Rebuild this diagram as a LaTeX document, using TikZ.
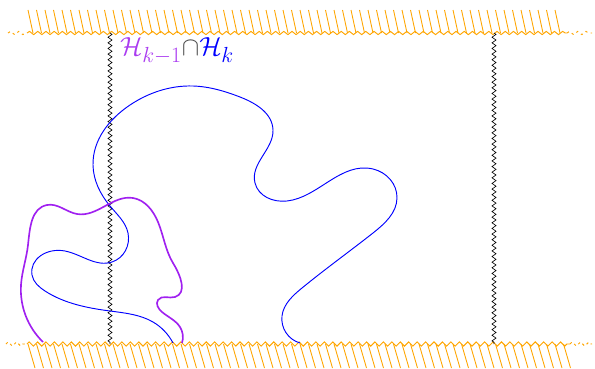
\documentclass[tikz,border=0pt]{standalone}
\usepackage{amsmath, amssymb}
\usepackage{xcolor}
\usetikzlibrary{decorations.pathmorphing, hobby}

\definecolor{hpurple}{RGB}{160,32,240}
\definecolor{hlabel}{RGB}{170,60,240}
\definecolor{horange}{RGB}{255,165,0}

\tikzset{
  wall/.style={horange, line width=0.8pt},
  hatch/.style={horange, line width=0.75pt},
  wiggle/.style={black, line width=0.55pt, decorate,
    decoration={zigzag, amplitude=1.7pt, segment length=4.8pt}},
}

\begin{document}
\begin{tikzpicture}[x=0.03cm, y=-0.03cm]
\useasboundingbox (0,0) rectangle (595,368);

% top wall
\foreach \x in {28,36.5,...,562} \draw[hatch] (\x,10) -- (\x+5,33);
\draw[wall, decorate, decoration={snake, amplitude=1.4pt, segment length=7pt}] (27,33) -- (567,33);
\draw[wall, dash pattern=on 2pt off 3pt, decorate, decoration={snake, amplitude=1.4pt, segment length=7pt}] (8,33) -- (27,33);
\draw[wall, dash pattern=on 2pt off 3pt, decorate, decoration={snake, amplitude=1.4pt, segment length=7pt}] (567,33) -- (592,33);

% bottom wall
\foreach \x in {28,36.5,...,566} \draw[hatch] (\x,344) -- (\x+7,368);
\draw[wall, decorate, decoration={zigzag, amplitude=1.8pt, segment length=7.2pt}] (27,344) -- (570,344);
\draw[wall, dash pattern=on 2pt off 3pt, decorate, decoration={zigzag, amplitude=1.8pt, segment length=7.2pt}] (6,344) -- (27,344);
\draw[wall, dash pattern=on 2pt off 3pt, decorate, decoration={zigzag, amplitude=1.8pt, segment length=7.2pt}] (570,344) -- (592,344);

% fibres
\coordinate (f1t) at (110,33);
\coordinate (f1b) at (110,344);
\coordinate (f2t) at (494,33);
\coordinate (f2b) at (494,344);
\draw[wiggle] (f1t) -- (f1b);
\draw[wiggle] (f2t) -- (f2b);

% curves
\draw[blue, line width=0.8pt, use Hobby shortcut]
  (300,343) .. (282,316) .. (302,288) .. (373,233) .. (397,198) .. (373,169)
  .. (287,201) .. (255,183) .. (273,130) .. (240,97) .. (193,86) .. (130,105)
  .. (93,165) .. (110,206) .. (128,233) .. (112,262) .. (65,251) .. (32,275)
  .. (45,291) .. (110,311) .. (153,322) .. (173,343);
\draw[hpurple, line width=1.4pt, use Hobby shortcut]
  (43,342) .. (21,285) .. (28,245) .. (47,205) .. (77,214) .. (133,198) .. (158,222)
  .. (173,263) .. (175,297) .. (158,300) .. (162,312) .. (180,327) .. (182,343);

\node[anchor=west, inner sep=0pt, scale=0.9, transform shape] (lab) at (120,51)
  {\Huge{\color{hlabel}$\mathcal H_{k-1}$}{\color{black!70}$\cap$}{\color{blue}$\mathcal H_k$}};
\end{tikzpicture}
\end{document}
